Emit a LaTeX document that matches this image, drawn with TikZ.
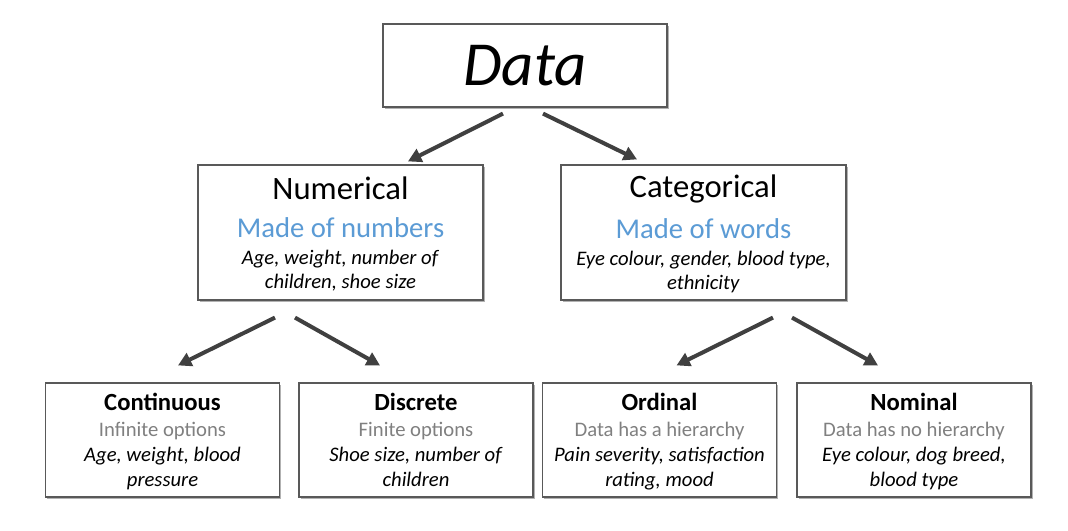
\documentclass[tikz,border=0pt]{standalone}
\usepackage{fontspec}
\setmainfont{Carlito}
\usetikzlibrary{arrows.meta,calc,shadows}
\definecolor{framegray}{RGB}{89,89,89}
\definecolor{arrowgray}{RGB}{64,64,64}
\definecolor{wordblue}{RGB}{91,155,213}
\definecolor{notegray}{RGB}{128,128,128}

\begin{document}
\begin{tikzpicture}[x=0.75pt,y=-0.75pt,>={Triangle[length=10pt,width=10.5pt]}]
\tikzset{b/.style={draw=framegray,line width=0.9pt,fill=white,inner sep=0pt,align=center,drop shadow={shadow xshift=1.2pt,shadow yshift=-1.2pt,opacity=0.3,fill=black}},
  top/.style={b,minimum width=213pt,minimum height=62.25pt,font=\fontsize{47}{56}\selectfont\itshape},
  mid/.style={b,minimum width=213.75pt,minimum height=101.25pt,font=\fontsize{15.5}{18}\selectfont},
  leaf/.style={b,minimum width=175.5pt,minimum height=85.5pt,font=\fontsize{15.5}{18.5}\selectfont},
  arr/.style={->,line width=3pt,arrowgray}}
\useasboundingbox[fill=white] (0,0) rectangle (1068,531);
\node[top] (data) at (525,65.5) {Data};
\node[mid] (num) at (340.5,232.5) {\rule{0pt}{21pt}{\fontsize{24.5}{28}\selectfont Numerical}\\[10.5pt]{\fontsize{21.5}{26}\selectfont\color{wordblue}Made of numbers}\\[2.25pt]\textit{Age, weight, number of}\\\textit{children, shoe size}\rule[-4.5pt]{0pt}{4.5pt}};
\node[mid] (cat) at (703.5,232.5) {\rule{0pt}{21pt}{\fontsize{24.5}{28}\selectfont Categorical}\\[10.5pt]{\fontsize{21.5}{26}\selectfont\color{wordblue}Made of words}\\[2.25pt]\textit{Eye colour, gender, blood type,}\\\textit{ethnicity}\rule[-4.5pt]{0pt}{4.5pt}};
% bottom row
\node[leaf] (cont) at (162.5,440) {\rule{0pt}{17.25pt}{\fontsize{18.5}{22}\selectfont\bfseries Continuous}\\[1pt]{\color{notegray}Infinite options}\\[0.25pt]\textit{Age, weight, blood}\\\textit{pressure}\rule[-4.5pt]{0pt}{4.5pt}};
\node[leaf] (disc) at (416,440) {\rule{0pt}{17.25pt}{\fontsize{18.5}{22}\selectfont\bfseries Discrete}\\[1pt]{\color{notegray}Finite options}\\[0.25pt]\textit{Shoe size, number of}\\\textit{children}\rule[-4.5pt]{0pt}{4.5pt}};
\node[leaf] (ord) at (659.5,440) {\rule{0pt}{17.25pt}{\fontsize{18.5}{22}\selectfont\bfseries Ordinal}\\[1pt]{\color{notegray}Data has a hierarchy}\\[0.25pt]\textit{Pain severity, satisfaction}\\\textit{rating, mood}\rule[-4.5pt]{0pt}{4.5pt}};
\node[leaf] (nom) at (914,440) {\rule{0pt}{17.25pt}{\fontsize{18.5}{22}\selectfont\bfseries Nominal}\\[1pt]{\color{notegray}Data has no hierarchy}\\[0.25pt]\textit{Eye colour, dog breed,}\\\textit{blood type}\rule[-4.5pt]{0pt}{4.5pt}};
\draw[arr] ($(data.south)+(-22,6)$) -- ($(num.north)+(67.5,-3)$);
\draw[arr] ($(data.south)+(18,6)$) -- ($(cat.north)+(-66.5,-5)$);
\draw[arr] ($(num.south)+(-65.5,17)$) -- ($(cont.north)+(15.5,-17)$);
\draw[arr] ($(num.south)+(-45.5,17)$) -- ($(disc.north)+(-36,-17)$);
\draw[arr] ($(cat.south)+(69.5,17)$) -- ($(ord.north)+(17,-17)$);
\draw[arr] ($(cat.south)+(88.5,17)$) -- ($(nom.north)+(-36,-17)$);
\end{tikzpicture}
\end{document}
